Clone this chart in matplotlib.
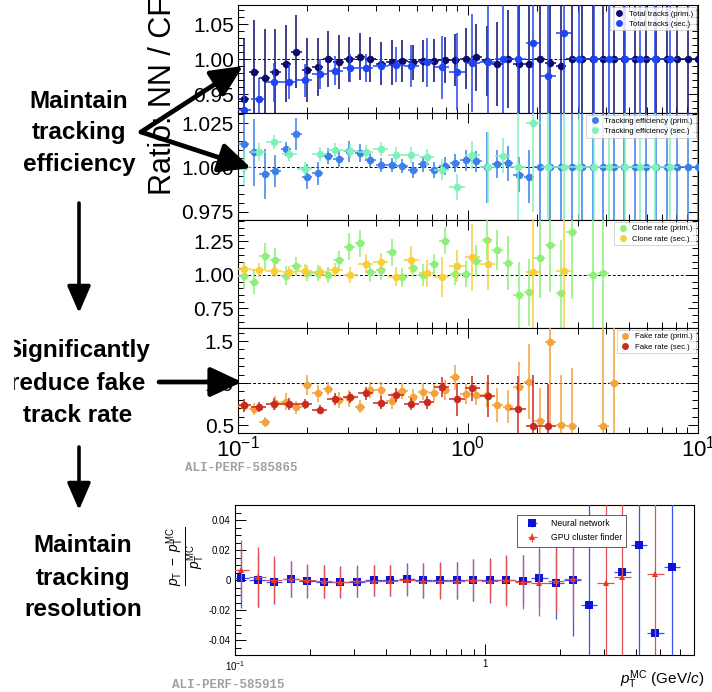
import numpy as np
import matplotlib
matplotlib.use('Agg')
import matplotlib.pyplot as plt
from matplotlib.ticker import (AutoMinorLocator, MultipleLocator, FormatStrFormatter,
                               FixedLocator, FixedFormatter, FuncFormatter, LogLocator, NullFormatter)
from matplotlib.patches import Rectangle
from matplotlib.lines import Line2D

plt.rcParams['font.family'] = ['Liberation Sans', 'DejaVu Sans']
plt.rcParams['mathtext.fontset'] = 'custom'
plt.rcParams['mathtext.rm'] = 'Liberation Sans'
plt.rcParams['mathtext.it'] = 'Liberation Sans:italic'
plt.rcParams['axes.linewidth'] = 0.8

nan = np.nan

# pT bin centres (GeV/c), fine binning for primaries, coarse for secondaries
x_prim = [0.1057, 0.1175, 0.1306, 0.1452, 0.1614, 0.1795, 0.1995, 0.2218, 0.2466, 0.2742,
          0.3048, 0.3388, 0.3767, 0.4188, 0.4656, 0.5176, 0.5754, 0.6397, 0.7112, 0.7907,
          0.8790, 0.9772, 1.0864, 1.2078, 1.3428, 1.4928, 1.6596, 1.8450, 2.0512, 2.2803,
          2.5351, 2.8184, 3.1333, 3.4834, 3.8726, 4.3053, 4.7863, 5.3211, 5.9156, 6.5766,
          7.3114, 8.1283, 9.0365, 10.0]
x_sec = [0.1057, 0.1231, 0.1434, 0.1671, 0.1946, 0.2267, 0.2641, 0.3077, 0.3584, 0.4175,
         0.4864, 0.5666, 0.6601, 0.7690, 0.8958, 1.0435, 1.2157, 1.4162, 1.6498, 1.9219,
         2.2387, 2.6080, 3.0381, 3.5392, 4.1229, 4.8028, 5.5948, 6.5175, 7.5925]
half_prim = 0.023   # half bin width in decades
half_sec = 0.033

# total tracks
tot_prim = [0.943, 0.982, 0.974, 0.982, 0.994, 1.011, 0.985, 0.989, 1.000, 0.996,
            1.000, 1.004, 1.000, 0.994, 0.996, 0.998, 0.996, 0.997, 0.998, 0.999,
            0.999, 1.001, 1.003, 0.998, 0.994, 1.000, 0.994, 0.993, 1.000, 0.995,
            0.990, 1.0, 1.0, 1.0, 1.0, 1.0, 1.0, 1.0, 1.0, 1.0, 1.0, 1.0, 1.0, 1.0]
tot_prim_err = [0.087, 0.074, 0.069, 0.061, 0.055, 0.052, 0.046, 0.042, 0.040, 0.039,
                0.032, 0.034, 0.032, 0.031, 0.032, 0.030, 0.025, 0.030, 0.031, 0.033,
                0.037, 0.044, 0.048, 0.05, 0.06, 0.07, 0.09, 0.1, 0.12, 0.13,
                0.15, 0.3, 0.3, 0.3, 0.3, 0.3, 0.3, 0.3, 0.3, 0.3, 0.3, 0.3, 0.3, 0.3]
tot_sec = [0.928, 0.944, 0.967, 0.968, 0.970, 0.979, 0.984, 0.988, 0.988, 0.990,
           0.992, 0.991, 0.996, 0.989, 0.982, 0.995, 0.996, 1.0, 1.0, 1.024,
           0.976, 1.037, 1.0, 1.0, 1.0, 1.0, 1.0, 1.0, 1.0]
tot_sec_err = [0.03, 0.03, 0.028, 0.025, 0.024, 0.022, 0.021, 0.02, 0.02, 0.022,
               0.025, 0.03, 0.035, 0.045, 0.055, 0.07, 0.08, 0.1, 0.12, 0.15,
               0.15, 0.2, 0.3, 0.3, 0.3, 0.3, 0.3, 0.3, 0.3]

# tracking efficiency
eff_prim = [1.0132, 1.0085, 0.9962, 0.9977, 1.0103, 1.0188, 0.9947, 0.9966, 1.0066, 1.0047,
            1.0090, 1.0081, 1.0041, 1.0015, 1.0011, 1.0006, 0.9987, 1.0019, 0.9983, 1.0009,
            1.0024, 1.0039, 1.0034, 1.0, 1.0019, 1.0023, 0.9958, 0.9947, 1.0, 1.0,
            1.0, 1.0, 1.0, 1.0, 1.0, 1.0, 1.0, 1.0, 1.0, 1.0, 1.0, 1.0, 1.0, 1.0]
eff_prim_err = [0.017, 0.019, 0.014, 0.009, 0.004, 0.009, 0.007, 0.0065, 0.0045, 0.0045,
                0.006, 0.005, 0.004, 0.004, 0.004, 0.004, 0.0045, 0.0045, 0.0045, 0.005,
                0.005, 0.006, 0.006, 0.02, 0.008, 0.01, 0.01, 0.015, 0.05, 0.05,
                0.05, 0.05, 0.05, 0.05, 0.05, 0.05, 0.05, 0.05, 0.05, 0.05, 0.05, 0.05, 0.05, 0.05]
eff_sec = [1.0, 1.0085, 1.0143, 1.0075, 0.9989, 1.0075, 1.0100, 1.0090, 1.0086, 1.0105,
           1.0071, 1.0071, 1.0056, 0.9987, 0.9889, 1.0071, 1.0, 1.0066, 1.0, 1.025,
           1.0, 1.0, 1.0, 1.0, 1.0, 1.0, 1.0, 1.0, 1.0]
eff_sec_err = [0.01, 0.005, 0.004, 0.004, 0.004, 0.004, 0.004, 0.004, 0.004, 0.004,
               0.0045, 0.0045, 0.005, 0.006, 0.0075, 0.008, 0.02, 0.01, 0.05, 0.05,
               0.05, 0.05, 0.05, 0.05, 0.05, 0.05, 0.05, 0.05, 0.05]

# clone rate
clone_prim = [0.993, 0.951, 1.141, 1.109, 0.993, 1.066, 1.012, 1.012, 1.000, 1.109,
              1.211, 1.235, 1.019, 1.034, 1.170, 0.981, 1.053, 1.000, 1.078, 1.255,
              1.007, 1.007, 1.107, 1.262, 1.187, 1.090, 0.847, 0.871, 1.129, 1.226,
              0.862, 1.323, nan, 1.000, 1.017, nan, nan, nan, nan, nan, nan, nan, nan, nan]
clone_prim_err = [0.10, 0.09, 0.10, 0.09, 0.07, 0.07, 0.06, 0.06, 0.06, 0.07,
                  0.10, 0.10, 0.07, 0.07, 0.10, 0.07, 0.07, 0.08, 0.08, 0.10,
                  0.08, 0.10, 0.12, 0.15, 0.15, 0.20, 0.25, 0.25, 0.30, 0.35,
                  0.40, 0.50, nan, 0.60, 0.60, nan, nan, nan, nan, nan, nan, nan, nan, nan]
clone_sec = [1.041, 1.036, 1.031, 1.019, 1.031, 1.019, 1.036, 1.000, 1.085, 1.097,
             0.988, 1.114, 1.012, 0.983, 1.066, 1.133, 1.085, nan, nan, 1.019,
             nan, 1.031, nan, nan, nan, nan, nan, nan, nan]
clone_sec_err = [0.05, 0.05, 0.05, 0.05, 0.05, 0.05, 0.05, 0.06, 0.07, 0.07,
                 0.07, 0.10, 0.10, 0.15, 0.12, 0.25, 0.20, nan, nan, 0.60,
                 nan, 0.60, nan, nan, nan, nan, nan, nan, nan]

# fake rate
fake_prim = [0.730, 0.690, 0.532, 0.760, 0.778, 0.710, 0.972, 0.877, 0.933, 0.798,
             0.820, 0.718, 0.917, 0.917, 0.786, 0.905, 0.829, 0.897, 0.885, 0.917,
             1.067, 0.869, 0.861, 0.860, 0.737, 0.720, 0.947, 1.016, 0.545, 1.488,
             0.500, 0.484, nan, nan, 0.492, 1.000, nan, nan, nan, nan, nan, nan, nan, nan]
fake_prim_err = [0.08, 0.07, 0.06, 0.08, 0.10, 0.08, 0.12, 0.10, 0.08, 0.10,
                 0.10, 0.08, 0.10, 0.10, 0.10, 0.10, 0.10, 0.10, 0.10, 0.12,
                 0.15, 0.12, 0.12, 0.15, 0.20, 0.20, 0.30, 0.45, 0.40, 1.00,
                 0.60, 0.70, nan, nan, 1.20, 1.20, nan, nan, nan, nan, nan, nan, nan, nan]
fake_sec = [0.734, 0.718, 0.750, 0.750, 0.746, 0.683, 0.813, 0.829, 0.877, 0.766,
            0.857, 0.750, 0.770, 0.948, 0.806, 0.937, 0.840, nan, 0.689, 0.492,
            0.492, nan, nan, nan, nan, nan, nan, nan, nan]
fake_sec_err = [0.08, 0.06, 0.07, 0.07, 0.06, 0.05, 0.07, 0.07, 0.08, 0.08,
                0.08, 0.07, 0.08, 0.12, 0.20, 0.15, 0.25, nan, 0.40, 0.60,
                0.50, nan, nan, nan, nan, nan, nan, nan, nan]

# relative pT resolution
res_x = x_sec[:27]
nn_res = [0.0013, 0.0, -0.0010, 0.0004, -0.0007, -0.0013, -0.0013, -0.0010, -0.0002, -0.0002,
          0.0009, -0.0002, -0.0002, -0.0002, 0.0002, -0.0002, 0.0, -0.0004, 0.0013, -0.0022,
          0.0, -0.0167, nan, 0.0053, 0.0235, -0.0350, 0.0084]
nn_res_err = [0.020, 0.018, 0.015, 0.012, 0.011, 0.011, 0.0105, 0.0105, 0.0105, 0.0105,
              0.0105, 0.0115, 0.012, 0.0125, 0.014, 0.015, 0.016, 0.017, 0.020, 0.024,
              0.037, 0.1, nan, 0.003, 0.1, 0.002, 0.1]
cf_res = [0.0066, 0.0022, 0.0002, 0.0009, -0.0002, -0.0009, -0.0013, -0.0007, -0.0004, -0.0004,
          -0.0002, -0.0004, -0.0007, -0.0004, 0.0, -0.0004, 0.0, -0.0015, -0.0022, -0.0007,
          0.0004, nan, -0.0022, 0.0022, nan, 0.0037, nan]
cf_res_err = [0.020, 0.020, 0.0155, 0.012, 0.011, 0.011, 0.010, 0.0105, 0.0105, 0.0105,
              0.0105, 0.0115, 0.012, 0.0125, 0.014, 0.014, 0.017, 0.018, 0.022, 0.022,
              0.025, nan, 0.1, 0.1, nan, 0.1, nan]


def xerrs(x, h):
    x = np.asarray(x)
    return [x * (1 - 10 ** -h), x * (10 ** h - 1)]


W, H = 712, 692
fig = plt.figure(figsize=(W / 100, H / 100), dpi=100)


def px_axes(x0, y0, x1, y1):
    return fig.add_axes([x0 / W, 1 - y1 / H, (x1 - x0) / W, (y1 - y0) / H])


def ratio_panel(ax, yp, ep, ys, es, cp, cs, lp, ls, ylim, major, fmt):
    for x, y, e, h, c, z in [(x_prim, yp, ep, half_prim, cp, 3),
                             (x_sec, ys, es, half_sec, cs, 4)]:
        ax.errorbar(x, y, yerr=e, xerr=xerrs(x, h), fmt='o', ms=5.4, mew=0,
                    color=c, ecolor=c, elinewidth=1.1, capsize=0, zorder=z)
    ax.axhline(1.0, color='black', ls=(0, (3, 2)), lw=0.7, zorder=2)
    ax.set_xscale('log')
    ax.set_xlim(0.1, 10)
    ax.set_ylim(*ylim)
    ax.yaxis.set_major_locator(MultipleLocator(major))
    ax.yaxis.set_minor_locator(AutoMinorLocator(5))
    ax.yaxis.set_major_formatter(FormatStrFormatter(fmt))
    ax.xaxis.set_minor_locator(LogLocator(base=10, subs=np.arange(2, 10), numticks=20))
    ax.xaxis.set_minor_formatter(NullFormatter())
    ax.tick_params(which='both', direction='in', top=True, right=True,
                   labelsize=15, pad=3, width=0.7)
    ax.tick_params(which='major', length=7)
    ax.tick_params(which='minor', length=4)
    handles = [Line2D([], [], marker='o', ls='none', ms=5, mew=0, color=c) for c in (cp, cs)]
    leg = ax.legend(handles, [lp, ls], loc='upper right', fontsize=5.6, frameon=True,
                    fancybox=False, framealpha=0.85, edgecolor='#bbbbbb', borderaxespad=0.3,
                    handletextpad=0.5, borderpad=0.35, labelspacing=0.35, handlelength=1.5)
    leg.get_frame().set_linewidth(0.5)


ax1 = px_axes(238, 5, 698, 112.5)
ax2 = px_axes(238, 112.5, 698, 220)
ax3 = px_axes(238, 220, 698, 328)
ax4 = px_axes(238, 328, 698, 433)

ratio_panel(ax1, tot_prim, tot_prim_err, tot_sec, tot_sec_err, '#0b0b6b', '#1f45f5',
            'Total tracks (prim.)', 'Total tracks (sec.)', (0.924, 1.0776), 0.05, '%.2f')
ratio_panel(ax2, eff_prim, eff_prim_err, eff_sec, eff_sec_err, '#3a7fea', '#80f0bb',
            'Tracking efficiency (prim.)', 'Tracking efficiency (sec.)', (0.9702, 1.031), 0.025, '%.3f')
ratio_panel(ax3, clone_prim, clone_prim_err, clone_sec, clone_sec_err, '#8ef07a', '#f7cf3a',
            'Clone rate (prim.)', 'Clone rate (sec.)', (0.604, 1.41), 0.25, '%.2f')
ratio_panel(ax4, fake_prim, fake_prim_err, fake_sec, fake_sec_err, '#f3a33a', '#c92a20',
            'Fake rate (prim.)', 'Fake rate (sec.)', (0.405, 1.655), 0.5, '%.1f')
for ax in (ax1, ax2, ax3):
    ax.tick_params(labelbottom=False)
ax4.tick_params(axis='x', labelsize=16, pad=2)

fig.text(163 / W, 1 - 96 / H, 'Ratio: NN / CF', rotation=90, fontsize=22,
         ha='center', va='center')
fig.text(185 / W, 1 - 468 / H, 'ALI-PERF-585865', family='Liberation Mono',
         weight='bold', color='#a0a0a0', fontsize=9, va='center')

# momentum resolution panel
axr = px_axes(235, 505, 694, 655)
axr.errorbar(res_x, nn_res, yerr=nn_res_err, xerr=xerrs(res_x, half_sec), fmt='s', ms=6,
             color='#0a14d8', ecolor='#3a50f0', elinewidth=0.9, capsize=1.2, mew=0,
             label='Neural network', zorder=3)
axr.errorbar(res_x, cf_res, yerr=cf_res_err, xerr=xerrs(res_x, half_sec), fmt='^', ms=5,
             color='#ee3322', ecolor='#e05050', elinewidth=0.9, capsize=1.2, mew=0,
             label='GPU cluster finder', zorder=4)
axr.set_xscale('log')
axr.set_xlim(0.1, 6.85)
axr.set_ylim(-0.05, 0.05)
axr.xaxis.set_major_locator(FixedLocator([0.1, 1]))
axr.xaxis.set_major_formatter(FixedFormatter([r'$10^{-1}$', '1']))
axr.xaxis.set_minor_locator(LogLocator(base=10, subs=np.arange(2, 10), numticks=20))
axr.xaxis.set_minor_formatter(NullFormatter())
axr.yaxis.set_major_locator(MultipleLocator(0.02))
axr.yaxis.set_minor_locator(AutoMinorLocator(4))
axr.yaxis.set_major_formatter(FuncFormatter(lambda v, p: '0' if abs(v) < 1e-9 else '%.2f' % v))
axr.tick_params(which='both', direction='in', labelsize=7, width=0.7, pad=3)
axr.tick_params(which='major', length=8)
axr.tick_params(which='minor', length=4)
leg = axr.legend(loc='upper right', bbox_to_anchor=(0.852, 0.935), borderaxespad=0,
                 fontsize=6.2, fancybox=False, edgecolor='#444444', framealpha=1,
                 handlelength=2.6, borderpad=0.5, labelspacing=0.6)
leg.get_frame().set_linewidth(0.6)
fig.text(186 / W, 1 - 556 / H,
         r'$\frac{p_{\rm T}\ -\ p_{\rm T}^{\rm MC}}{p_{\rm T}^{\rm MC}}$',
         rotation=90, fontsize=14, ha='center', va='center')
fig.text(704 / W, 1 - 680 / H, r'$p_{\rm T}^{\rm MC}$ (GeV/$c$)', fontsize=11,
         ha='right', va='center')
fig.text(172 / W, 1 - 685 / H, 'ALI-PERF-585915', family='Liberation Mono',
         weight='bold', color='#a0a0a0', fontsize=9, va='center')

# annotations and arrows drawn in pixel space on top of everything
ov = fig.add_axes([0, 0, 1, 1], zorder=10)
ov.set_xlim(0, W)
ov.set_ylim(H, 0)
ov.axis('off')
ov.patch.set_alpha(0)

txt = dict(ha='center', va='center', fontsize=17.5, weight='bold', linespacing=1.5)
ov.text(79, 133, 'Maintain\ntracking\nefficiency', **txt)
ov.text(78, 383, 'Significantly\nreduce fake\ntrack rate', **txt)
ov.text(83, 578, 'Maintain\ntracking\nresolution', **txt)
ov.add_patch(Rectangle((0, 330), 13, 75, color='white', zorder=5))

big = dict(arrowstyle='-|>,head_length=1.6,head_width=0.75', lw=3.4, color='black',
           mutation_scale=12, shrinkA=0, shrinkB=0)
small = dict(arrowstyle='-|>,head_length=1.5,head_width=0.65', lw=2.6, color='black',
             mutation_scale=11, shrinkA=0, shrinkB=0)
ov.annotate('', xy=(243, 66), xytext=(141, 132), arrowprops=big)
ov.annotate('', xy=(251, 168), xytext=(141, 132), arrowprops=big)
ov.annotate('', xy=(242, 382), xytext=(159, 382), arrowprops=big)
ov.annotate('', xy=(79, 313), xytext=(79, 203), arrowprops=small)
ov.annotate('', xy=(79, 510), xytext=(79, 447), arrowprops=small)

fig.savefig('out.png', dpi=100)
